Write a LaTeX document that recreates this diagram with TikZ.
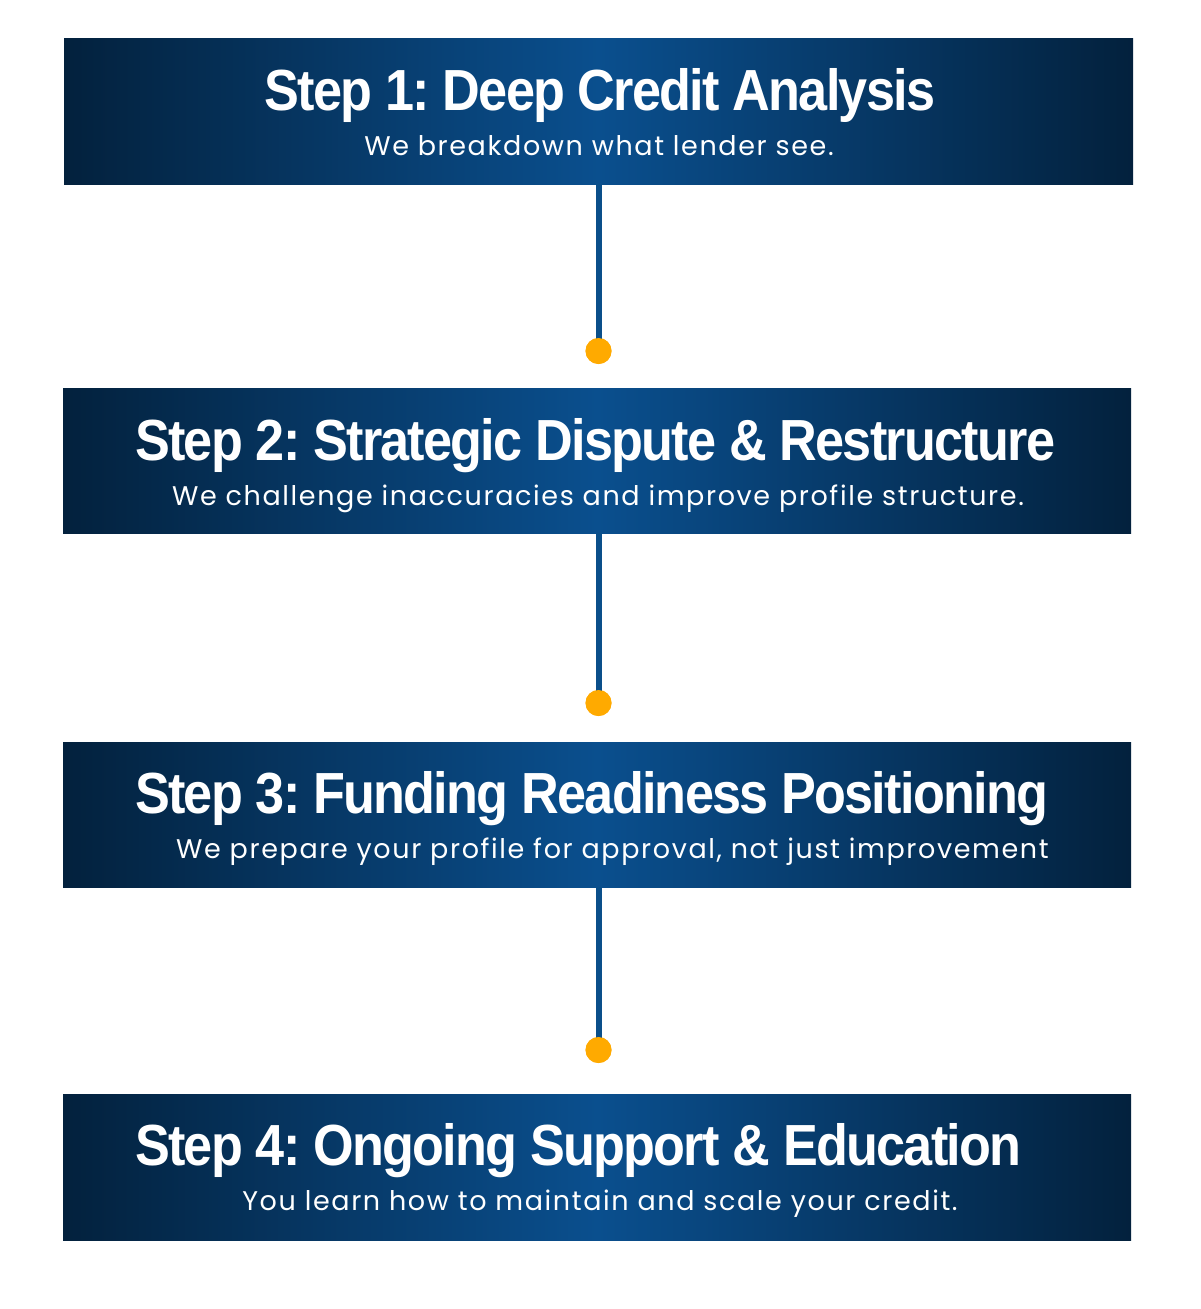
\documentclass[tikz,border=0pt]{standalone}
\usepackage{fontspec}
\newfontfamily\titlefont[FakeStretch=0.9,LetterSpace=-3]{Liberation Sans Bold}
\newfontfamily\subfont[LetterSpace=6]{Poppins}
\definecolor{navydark}{HTML}{03213D}
\definecolor{navymid}{HTML}{0A4F8E}
\definecolor{linecol}{HTML}{0A4F8A}
\definecolor{dotcol}{HTML}{FFAA00}
\begin{document}
\frenchspacing
\begin{tikzpicture}[x=1pt,y=-1pt,
  stepbox/.style={left color=navydark,right color=navydark,middle color=navymid,draw=none},
  titletext/.style={text=white,font=\titlefont\fontsize{58}{60}\selectfont,inner sep=0pt,anchor=base},
  subtext/.style={text=white,font=\subfont\fontsize{27}{30}\selectfont,inner sep=0pt,anchor=base},
  connector/.style={draw=linecol,line width=6pt},
  dot/.style={circle,fill=dotcol,minimum size=26pt,inner sep=0pt}]
\useasboundingbox (0,0) rectangle (1200,1309);
\fill[white] (0,0) rectangle (1200,1309);
% boxes
\shade[stepbox] (64,38) rectangle (1133,184);
\shade[stepbox] (63,388) rectangle (1131,533);
\shade[stepbox] (63,742) rectangle (1131,887);
\shade[stepbox] (63,1094) rectangle (1131,1240);
\coordinate (b1) at (598.5,184);
\coordinate (b2) at (598.5,533);
\coordinate (b3) at (598.5,887);
% connectors and dots
\node[dot] (d1) at (598.5,351) {};
\node[dot] (d2) at (598.5,703) {};
\node[dot] (d3) at (598.5,1050) {};
\draw[connector] (b1) -- (d1.center);
\draw[connector] (b2) -- (d2.center);
\draw[connector] (b3) -- (d3.center);
\node[dot] at (d1) {};
\node[dot] at (d2) {};
\node[dot] at (d3) {};
% texts
\node[titletext] (t1) at (600,110) {Step 1: Deep Credit Analysis};
\node[subtext] (s1) at (599,155) {We breakdown what lender see.};
\node[titletext,anchor=base west] (t2) at (135,460) {Step 2: Strategic Dispute \& Restructure};
\node[subtext] (s2) at (598,505) {We challenge inaccuracies and improve profile structure.};
\node[titletext,anchor=base west] (t3) at (135,813) {Step 3: Funding Readiness Positioning};
\node[subtext,anchor=base west] (s3) at (176,858) {We prepare your profile for approval, not just improvement};
\node[titletext,anchor=base west] (t4) at (135,1165) {Step 4: Ongoing Support \& Education};
\node[subtext] (s4) at (600,1210) {You learn how to maintain and scale your credit.};
\end{tikzpicture}
\end{document}
